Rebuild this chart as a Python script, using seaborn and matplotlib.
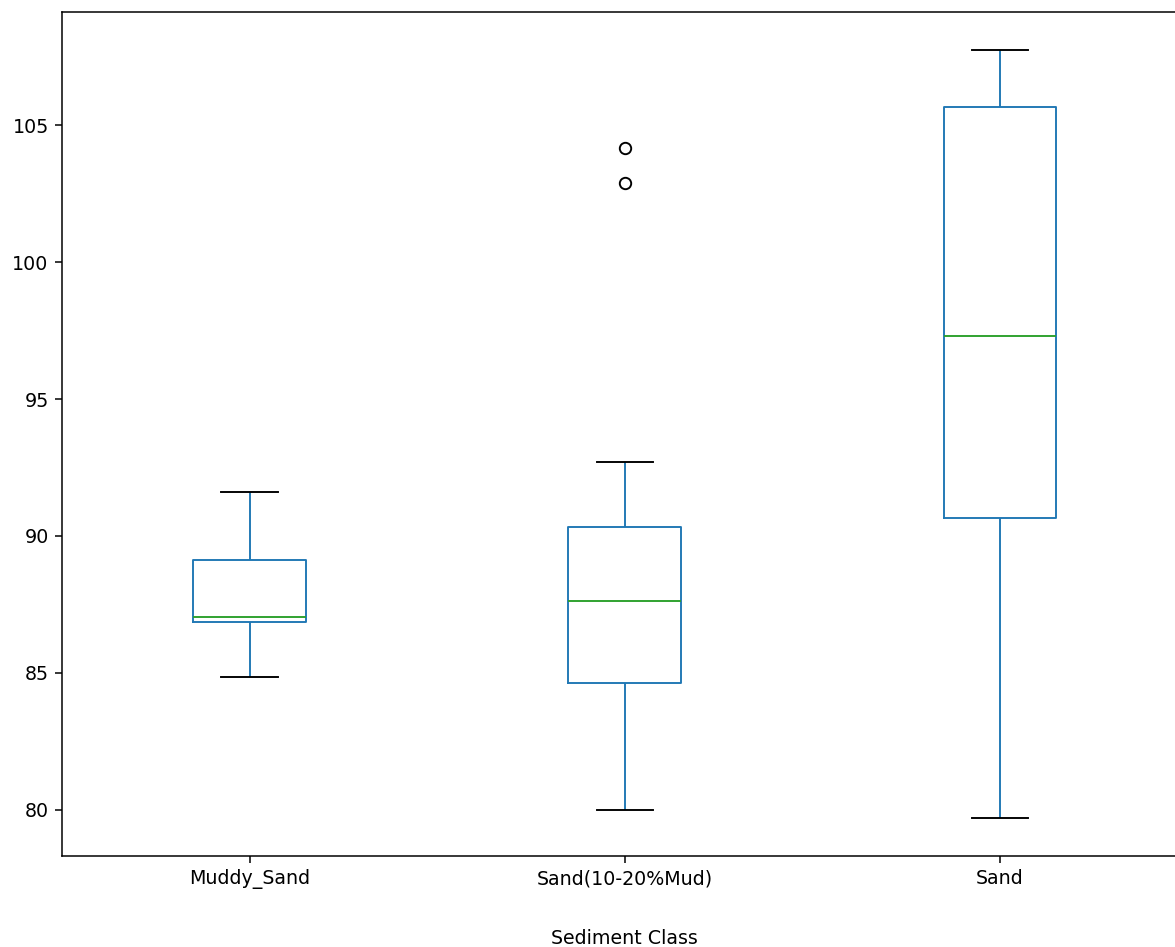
import numpy as np
import pandas as pd
import matplotlib
matplotlib.use("Agg")
import matplotlib.pyplot as plt
import seaborn as sns

# Sediment classes and the porosity-like readings for each
CLASSES = ["Muddy_Sand", "Sand(10-20%Mud)", "Sand"]
muddy_sand = [84.86, 86.87, 87.05, 89.14, 91.59]
sand_10_20_mud = [80.0, 82.3, 83.8, 84.64, 85.5, 86.7, 87.64,
                  88.5, 89.6, 90.31, 92.72, 102.88, 104.16]
sand = [79.71, 90.64, 97.29, 105.66, 107.74]

df = pd.DataFrame({
    "Sediment Class": (["Muddy_Sand"] * len(muddy_sand)
                       + ["Sand(10-20%Mud)"] * len(sand_10_20_mud)
                       + ["Sand"] * len(sand)),
    "value": muddy_sand + sand_10_20_mud + sand,
})

DPI = 137
fig = plt.figure(figsize=(1175 / DPI, 947 / DPI), dpi=DPI)
# axes run slightly past the right edge, like the cropped original
ax = fig.add_axes([62 / 1175, 1 - 856 / 947, (1187.5 - 62) / 1175, (856 - 12) / 947])

sns.boxplot(
    data=df, x="Sediment Class", y="value", order=CLASSES,
    width=0.3, fill=False, color="#1f77b4", linewidth=1.0, whis=1.5,
    medianprops={"color": "#2ca02c"},
    capprops={"color": "black"},
    flierprops={"marker": "o", "markeredgecolor": "black",
                "markerfacecolor": "none", "markersize": 6},
    ax=ax,
)

ax.set_xlim(-0.5, 2.5)
ax.set_ylabel("")
ax.set_xlabel("Sediment Class", labelpad=21)

fig.savefig("out.png", dpi=DPI)
